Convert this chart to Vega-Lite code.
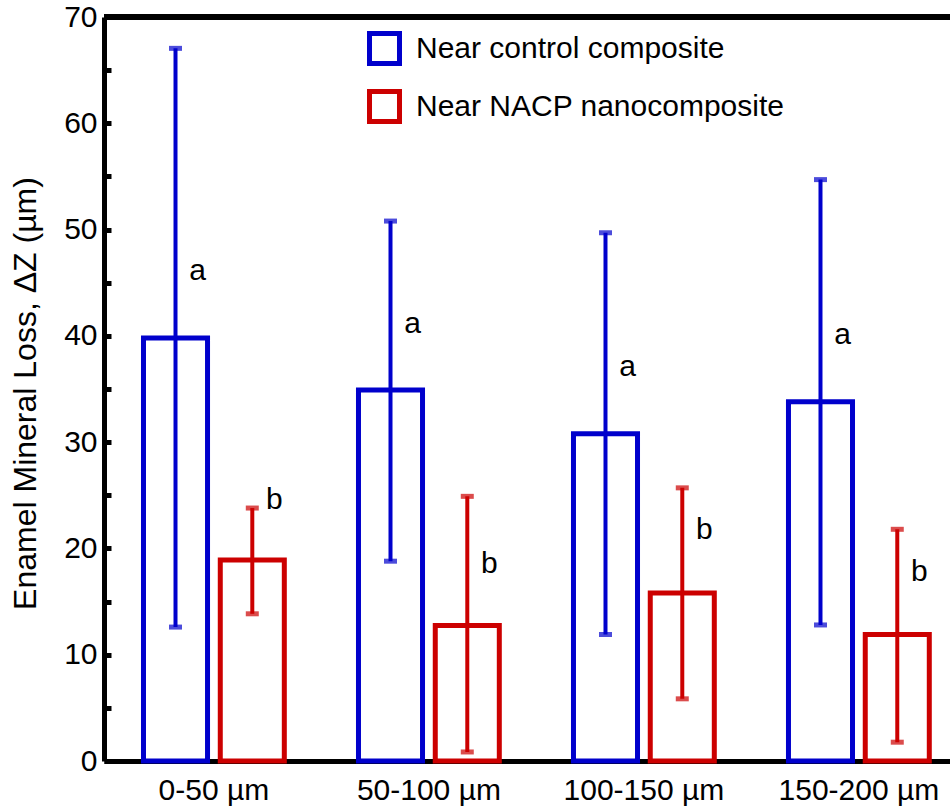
{
  "$schema": "https://vega.github.io/schema/vega-lite/v6.json",
  "width": 846,
  "height": 744,
  "autosize": {"type": "none"},
  "padding": {"left": 104, "top": 17, "right": 0, "bottom": 50},
  "background": "white",
  "config": {
    "view": {"stroke": null},
    "font": "Liberation Sans",
    "axis": {"domainColor": "black", "domainWidth": 5, "labelFont": "Liberation Sans", "labelColor": "black", "labelFontSize": 30, "grid": false, "titleFont": "Liberation Sans", "titleColor": "black"}
  },
  "data": {
    "values": [
      {"range": "0-50 µm", "group": "Near control composite", "mean": 39.8, "lo": 12.6, "hi": 67.05, "letter": "a", "ly": 45.3},
      {"range": "0-50 µm", "group": "Near NACP nanocomposite", "mean": 18.9, "lo": 13.85, "hi": 23.8, "letter": "b", "ly": 23.7},
      {"range": "50-100 µm", "group": "Near control composite", "mean": 34.9, "lo": 18.8, "hi": 50.8, "letter": "a", "ly": 40.3},
      {"range": "50-100 µm", "group": "Near NACP nanocomposite", "mean": 12.75, "lo": 0.85, "hi": 24.9, "letter": "b", "ly": 17.7},
      {"range": "100-150 µm", "group": "Near control composite", "mean": 30.8, "lo": 11.9, "hi": 49.7, "letter": "a", "ly": 36.2},
      {"range": "100-150 µm", "group": "Near NACP nanocomposite", "mean": 15.8, "lo": 5.85, "hi": 25.7, "letter": "b", "ly": 20.9},
      {"range": "150-200 µm", "group": "Near control composite", "mean": 33.8, "lo": 12.8, "hi": 54.7, "letter": "a", "ly": 39.2},
      {"range": "150-200 µm", "group": "Near NACP nanocomposite", "mean": 11.9, "lo": 1.77, "hi": 21.8, "letter": "b", "ly": 16.9}
    ]
  },
  "layer": [
    {
      "encoding": {
        "x": {
          "field": "range", "type": "nominal", "sort": null,
          "scale": {"paddingInner": 0.345, "paddingOuter": 0.14, "align": 0.656},
          "axis": {"title": null, "labelAngle": 0, "ticks": false, "labelPadding": 14, "labelFontSize": 30}
        },
        "xOffset": {"field": "group", "type": "nominal", "sort": null, "scale": {"paddingInner": 0.166, "paddingOuter": 0}},
        "color": {
          "field": "group", "type": "nominal", "sort": null,
          "scale": {"domain": ["Near control composite", "Near NACP nanocomposite"], "range": ["#0000CC", "#CC0000"]},
          "legend": {
            "orient": "none", "legendX": 263, "legendY": 14, "title": null,
            "symbolType": "M-1,-1H1V1H-1Z M-0.714,-0.714V0.714H0.714V-0.714Z",
            "symbolSize": 1225, "symbolStrokeWidth": 0,
            "labelFontSize": 30, "labelColor": "black", "labelFont": "Liberation Sans", "labelOffset": 14, "labelLimit": 500, "rowPadding": 23, "padding": 0
          }
        }
      },
      "layer": [
        {
          "mark": {"type": "bar", "filled": false, "strokeWidth": 5},
          "encoding": {
            "y": {
              "field": "mean", "type": "quantitative",
              "scale": {"domain": [0, 70], "nice": false},
              "axis": {
                "values": [0, 5, 10, 15, 20, 25, 30, 35, 40, 45, 50, 55, 60, 65, 70],
                "labelExpr": "datum.value % 10 === 0 ? datum.label : ''",
                "tickSize": -7, "tickWidth": 5, "tickColor": "black", "labelPadding": 14,
                "title": "Enamel Mineral Loss, ΔZ (µm)", "titleFontSize": 32, "titleFontWeight": "normal",
                "titleX": -79, "titleY": 376, "titleAngle": -90, "titleAlign": "center", "titleBaseline": "middle"
              }
            }
          }
        },
        {
          "mark": {"type": "rule", "strokeWidth": 4},
          "encoding": {"y": {"field": "lo", "type": "quantitative"}, "y2": {"field": "hi"}}
        },
        {
          "mark": {"type": "tick", "orient": "horizontal", "size": 13, "thickness": 5},
          "encoding": {"y": {"field": "lo", "type": "quantitative"}}
        },
        {
          "mark": {"type": "tick", "orient": "horizontal", "size": 13, "thickness": 5},
          "encoding": {"y": {"field": "hi", "type": "quantitative"}}
        },
        {
          "mark": {"type": "text", "fontSize": 30, "font": "Liberation Sans", "baseline": "alphabetic", "align": "center", "dx": 22},
          "encoding": {"y": {"field": "ly", "type": "quantitative"}, "text": {"field": "letter"}, "color": {"value": "black"}}
        }
      ]
    },
    {
      "mark": {"type": "rule", "strokeWidth": 5, "color": "black"},
      "encoding": {"y": {"datum": 70}}
    }
  ]
}
